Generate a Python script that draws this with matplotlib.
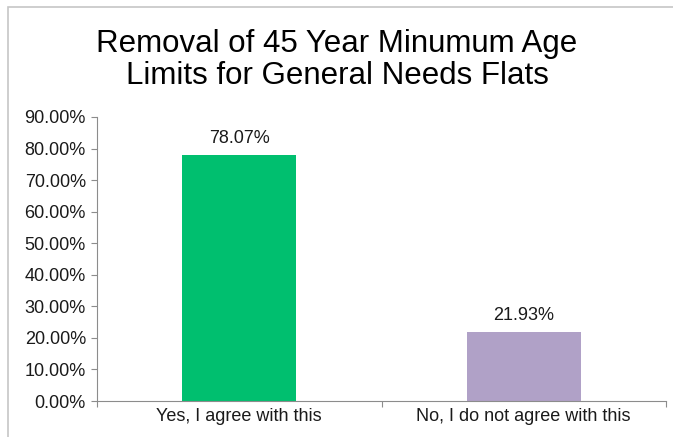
import matplotlib
matplotlib.use('Agg')
import matplotlib.pyplot as plt
from matplotlib.patches import Rectangle
from matplotlib.ticker import FuncFormatter

# data
kategori = ['Yes, I agree with this', 'No, I do not agree with this']
nilai = [78.07, 21.93]
warna = ['#00BF6F', '#B0A1C7']
judul = 'Removal of 45 Year Minumum Age\nLimits for General Needs Flats'

def main():
    plt.rcParams['font.family'] = ['Liberation Sans', 'DejaVu Sans']

    fig = plt.figure(figsize=(6.73, 4.37), dpi=100)
    ax = fig.add_axes([97/673, 1 - 401/437, (666 - 97)/673, (401 - 117)/437])

    # bingkai luar (kanan dan bawah terpotong)
    fig.patches.append(Rectangle((8/673, -1.0), 3.0, 2.0 - 7/437,
                                 transform=fig.transFigure, fill=False,
                                 edgecolor='#c6c6c6', lw=1.2))

    posisi = list(range(len(kategori)))
    bars = ax.bar(posisi, nilai, width=0.4, color=warna)

    for b, v in zip(bars, nilai):
        ax.text(b.get_x() + b.get_width()/2, v + 2.4, '%.2f%%' % v,
                ha='center', va='bottom', fontsize=13, color='#1a1a1a')

    ax.set_xlim(-0.5, 1.5)
    ax.set_ylim(0, 90)
    ax.set_yticks(range(0, 91, 10))
    ax.yaxis.set_major_formatter(FuncFormatter(lambda y, p: '%.2f%%' % y))

    # tick kategori di batas, label di tengah
    ax.set_xticks([-0.5, 0.5, 1.5])
    ax.set_xticklabels([])
    ax.set_xticks(posisi, minor=True)
    ax.set_xticklabels(kategori, minor=True)
    ax.tick_params(axis='x', which='minor', length=0, pad=5, labelsize=13,
                   labelcolor='#1a1a1a')
    ax.tick_params(axis='x', which='major', length=4, color='#8c8c8c')
    ax.tick_params(axis='y', length=4, color='#8c8c8c', labelsize=13,
                   labelcolor='#1a1a1a', pad=4)

    for s in ['top', 'right']:
        ax.spines[s].set_visible(False)
    for s in ['left', 'bottom']:
        ax.spines[s].set_color('#8c8c8c')

    fig.text(337/673, 1 - 60/437, judul, ha='center', va='center',
             fontsize=22.5, linespacing=1.1, color='black')

    fig.savefig('out.png', dpi=100)

if __name__ == '__main__':
    main()
